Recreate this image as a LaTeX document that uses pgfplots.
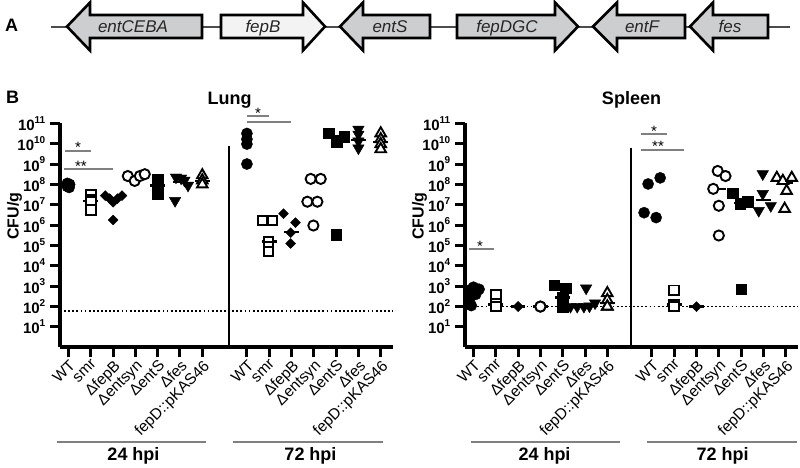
\documentclass[border=0pt]{standalone}
\usepackage{pgfplots}
\pgfplotsset{compat=1.18}
\usepackage{fontspec}
\setmainfont{Liberation Sans}
\definecolor{genegray}{HTML}{CDCED0}
\definecolor{genelight}{HTML}{F3F3F3}
\definecolor{siggray}{HTML}{808080}
\newcommand{\tl}[1]{\textbf{10}\raisebox{7.3pt}{\fontsize{10}{10}\selectfont\textbf{#1}}}
\newcommand{\fs}[1]{\fontsize{#1}{#1}\selectfont}
\tikzset{garrow/.style={line width=2.6pt, draw=black, line join=miter}}
\pgfplotsset{
  cfu/.style={
    scale only axis, width=333pt, height=224pt,
    xmin=0.62, xmax=15.55, ymin=1, ymax=1e11,
    axis x line*=bottom, axis y line*=left,
    axis line style={line width=4pt},
    tick style={black,line width=3pt},
    tick align=outside, major tick length=10pt,
    xtick={1,2,3,4,5,6,7,9,10,11,12,13,14,15},
    xticklabels={WT,smr,ΔfepB,Δentsyn,ΔentS,Δfes,fepD::pKAS46,WT,smr,ΔfepB,Δentsyn,ΔentS,Δfes,fepD::pKAS46},
    xticklabel style={rotate=45,anchor=north east,font=\fs{15.5},inner sep=1pt},
    ytick={1e1,1e2,1e3,1e4,1e5,1e6,1e7,1e8,1e9,1e10,1e11},
    yticklabels={\tl{1},\tl{2},\tl{3},\tl{4},\tl{5},\tl{6},\tl{7},\tl{8},\tl{9},\tl{10},\tl{11}},
    yticklabel style={font=\fs{15},inner sep=0pt,xshift=-4.5pt},
    yminorticks=false, clip=false,
  },
  pwt/.style={only marks, mark=*, mark size=5.6pt, mark options={fill=black,draw=black}},
  psmr/.style={only marks, mark=square*, mark size=4.8pt, mark options={fill=white,draw=black,line width=1.9pt}},
  pfepb/.style={only marks, mark=square*, mark size=3.5pt, mark options={rotate=45,fill=black,draw=black}},
  pentsyn/.style={only marks, mark=*, mark size=5.1pt, mark options={fill=white,draw=black,line width=1.9pt}},
  pents/.style={only marks, mark=square*, mark size=5.2pt, mark options={fill=black,draw=black}},
  pfes/.style={only marks, mark=triangle*, mark size=6.6pt, mark options={rotate=180,fill=black,draw=black}},
  pfepd/.style={only marks, mark=triangle*, mark size=6.1pt, mark options={fill=white,draw=black,line width=1.9pt}},
  pmed/.style={draw=none, mark=none, error bars/x dir=both, error bars/x fixed=0.33, error bars/error mark=none, error bars/error bar style={black,line width=2.2pt}},
}
\begin{document}
\begin{tikzpicture}
\path[use as bounding box] (0pt,0pt) rectangle (800pt,468pt);
% ---------- overlay in pixel coordinates ----------
\begin{axis}[at={(0pt,0pt)},anchor=south west,scale only axis,width=800pt,height=468pt,
  xmin=0,xmax=800,ymin=0,ymax=468,y dir=reverse,hide axis,clip=false]
\draw[line width=2.4pt, black!70] (51,27) -- (790,27);
\draw[garrow, fill=genegray] (67,26.5) -- (90,2.5) -- (90,15) -- (202,15) -- (202,38) -- (90,38) -- (90,50.5) -- cycle;
\draw[garrow, fill=genelight] (221,15) -- (303,15) -- (303,2.5) -- (325,26.5) -- (303,50.5) -- (303,38) -- (221,38) -- cycle;
\draw[garrow, fill=genegray] (340,26.5) -- (363,2.5) -- (363,15) -- (430,15) -- (430,38) -- (363,38) -- (363,50.5) -- cycle;
\draw[garrow, fill=genegray] (457,15) -- (555,15) -- (555,2.5) -- (578,26.5) -- (555,50.5) -- (555,38) -- (457,38) -- cycle;
\draw[garrow, fill=genegray] (593,26.5) -- (617,2.5) -- (617,15) -- (685,15) -- (685,38) -- (617,38) -- (617,50.5) -- cycle;
\draw[garrow, fill=genegray] (690,26.5) -- (713,2.5) -- (713,15) -- (768,15) -- (768,38) -- (713,38) -- (713,50.5) -- cycle;
\node[anchor=base,font=\fs{17}\itshape,text=black!85] at (133,33) {entCEBA};
\node[anchor=base,font=\fs{17}\itshape,text=black!85] at (263,33) {fepB};
\node[anchor=base,font=\fs{17}\itshape,text=black!85] at (390,33) {entS};
\node[anchor=base,font=\fs{17}\itshape,text=black!85] at (507,33) {fepDGC};
\node[anchor=base,font=\fs{17}\itshape,text=black!85] at (642,33) {entF};
\node[anchor=base,font=\fs{17}\itshape,text=black!85] at (730,33) {fes};
\node[anchor=base west,font=\fs{18}\bfseries,inner sep=0pt] at (5,31.7) {A};
\node[anchor=base west,font=\fs{18}\bfseries,inner sep=0pt] at (6,103.5) {B};
\node[anchor=base,font=\fs{18}\bfseries] at (229.5,104.5) {Lung};
\node[anchor=base,font=\fs{18}\bfseries] at (631.5,104.5) {Spleen};
\node[anchor=base,rotate=90,font=\fs{16}\bfseries] at (18.5,216) {CFU/g};
\node[anchor=base,rotate=90,font=\fs{16}\bfseries] at (423.5,216) {CFU/g};
% significance bars
\draw[siggray,line width=2pt] (65,151) -- (91,151);
\draw[siggray,line width=2pt] (64,169) -- (113,169);
\node[anchor=base,font=\fs{15}] at (78,153) {*};
\node[anchor=base,font=\fs{15}] at (81,171) {**};
\draw[siggray,line width=2pt] (247,116.5) -- (269,116.5);
\draw[siggray,line width=2pt] (247,122) -- (291,122);
\node[anchor=base,font=\fs{15}] at (258,118) {*};
\draw[siggray,line width=2pt] (469,249.3) -- (494,249.3);
\node[anchor=base,font=\fs{15}] at (480,251) {*};
\draw[siggray,line width=2pt] (641,134) -- (667,134);
\draw[siggray,line width=2pt] (641,150) -- (684,150);
\node[anchor=base,font=\fs{15}] at (654,136) {*};
\node[anchor=base,font=\fs{15}] at (658,151) {**};
% hpi groups
\draw[siggray,line width=2pt] (57,441.7) -- (206,441.7);
\draw[siggray,line width=2pt] (233,441.7) -- (383,441.7);
\draw[siggray,line width=2pt] (471,441.7) -- (620,441.7);
\draw[siggray,line width=2pt] (647,441.7) -- (797,441.7);
\node[anchor=base,font=\fs{18}\bfseries] at (133.5,460) {24 hpi};
\node[anchor=base,font=\fs{18}\bfseries] at (310.5,460) {72 hpi};
\node[anchor=base,font=\fs{18}\bfseries] at (544.5,460) {24 hpi};
\node[anchor=base,font=\fs{18}\bfseries] at (722.5,460) {72 hpi};
\end{axis}
% ---------- Lung ----------
\begin{semilogyaxis}[cfu, at={(60pt,120.7pt)}, anchor=south west]
\addplot[black,line width=1.6pt,dash pattern=on 1.8pt off 2.3pt] coordinates {(0.62,60) (15.55,60)};
\addplot[black,line width=2.2pt] coordinates {(8.18,1) (8.18,7.6e9)};
\addplot[pwt] coordinates {(0.95,1.12e8) (1.05,1e8) (1.0,8.91e7) (0.95,7.94e7) (1.03,7.08e7)};
\addplot[psmr] coordinates {(2,3.16e7) (2,1.78e7) (2,1.41e7) (2,5.62e6)};
\addplot[pfepb] coordinates {(2.65,2.82e7) (2.85,2e7) (3.0,1.32e7) (3.2,2e7) (3.4,2.82e7) (3.0,1.78e6)};
\addplot[pentsyn] coordinates {(3.66,2.57e8) (3.97,1.48e8) (4.2,2.57e8) (4.42,3.16e8)};
\addplot[pents] coordinates {(5,1.78e8) (5,1e8) (5,6.31e7) (5,3.55e7)};
\addplot[pfes] coordinates {(5.82,2.24e8) (6.05,2e8) (6.2,1.58e8) (6.36,8.91e7) (5.78,1.58e7)};
\addplot[pfepd] coordinates {(7,2.82e8) (7,1.58e8) (7,1e8)};
\addplot[pwt] coordinates {(9,3.16e10) (9,1.66e10) (9,9.55e9) (9,1e9)};
\addplot[psmr] coordinates {(9.7,1.66e6) (10.15,1.66e6) (9.97,1.58e5) (9.97,8.91e4) (9.97,5.01e4)};
\addplot[pfepb] coordinates {(10.64,3.63e6) (11.18,1.32e6) (10.96,4.27e5) (10.96,1.26e5)};
\addplot[pentsyn] coordinates {(11.86,1.86e8) (12.31,1.86e8) (11.71,1.41e7) (12.16,1.41e7) (11.98,9.55e5)};
\addplot[pents] coordinates {(12.67,3.16e10) (13.03,1.26e10) (13.35,2.24e10) (12.99,3.39e5)};
\addplot[pfes] coordinates {(14,5.01e10) (14,2.88e10) (14,1.32e10) (14,6.03e9)};
\addplot[pfepd] coordinates {(15,3.24e10) (15,1.66e10) (15,9.55e9) (15,5.37e9)};
\addplot[pmed] coordinates {(2,1.58e7) (3,1.78e7) (4,2.51e8) (5,8.91e7) (6,1.26e8) (7,1.41e8) (10,1.58e5) (11,4.47e5) (12,1.41e7) (13,2.24e10) (14,1.58e10) (15,1.26e10)};
\end{semilogyaxis}
% ---------- Spleen ----------
\begin{semilogyaxis}[cfu, at={(465pt,120.7pt)}, anchor=south west]
\addplot[black,line width=1.6pt,dash pattern=on 1.8pt off 2.3pt] coordinates {(0.62,100) (15.55,100)};
\addplot[black,line width=2.2pt] coordinates {(8.05,1) (8.05,6.3e9)};
\addplot[pwt] coordinates {(0.8,631) (1.0,891) (1.25,708) (0.85,282) (1.1,398) (0.9,112)};
\addplot[psmr] coordinates {(2,398) (2,141) (2,100) (2,100)};
\addplot[pfepb] coordinates {(3,100) (3,100)};
\addplot[pentsyn] coordinates {(4,100) (4,100)};
\addplot[pents] coordinates {(4.63,1122) (5.13,794) (5,282) (5,158) (5,100) (5,93)};
\addplot[pfes] coordinates {(6.05,794) (5.35,100) (5.65,100) (5.95,100) (6.2,105) (6.45,148)};
\addplot[pfepd] coordinates {(7,457) (7,209) (7,100) (7,100)};
\addplot[pwt] coordinates {(8.83,1.05e8) (9.37,2.09e8) (8.65,4.07e6) (9.19,2.34e6)};
\addplot[psmr] coordinates {(10,631) (10,126) (10,100)};
\addplot[pfepb] coordinates {(11,100)};
\addplot[pentsyn] coordinates {(11.95,4.57e8) (12.3,2.57e8) (11.75,6.03e7) (12,8.91e6) (12,3.09e5)};
\addplot[pents] coordinates {(12.62,3.8e7) (12.96,1.12e7) (13.29,1.41e7) (13,700)};
\addplot[pfes] coordinates {(13.97,3.24e8) (13.97,3.47e7) (13.79,5.13e6) (14.33,8.91e6)};
\addplot[pfepd] coordinates {(14.6,2.09e8) (14.87,1.48e8) (15.27,2.09e8) (15.04,4.79e7) (14.95,6.31e6)};
\addplot[pmed] coordinates {(2,126) (3,100) (4,100) (5,282) (6,112) (7,148) (10,126) (11,100) (12,6.03e7) (13,1.26e7) (14,1.74e7) (15,1.17e8)};
\end{semilogyaxis}
\end{tikzpicture}
\end{document}
